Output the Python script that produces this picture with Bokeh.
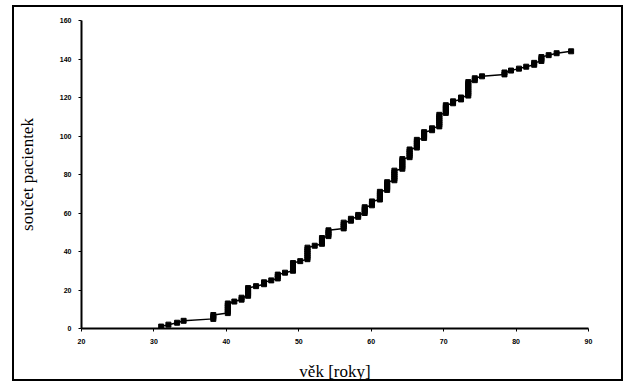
from bokeh.plotting import figure
from bokeh.embed import file_html
from bokeh.resources import INLINE
from bokeh.models import FixedTicker

ages = [31.0, 32.0, 33.2, 34.1, 38.2, 40.2, 41.1, 42.1, 43.0, 44.1, 45.2, 46.2,
        47.1, 48.1, 49.2, 50.2, 51.2, 52.2, 53.2, 54.1, 56.2, 57.2, 58.2, 59.1,
        60.1, 61.2, 62.2, 63.2, 64.3, 65.3, 66.3, 67.3, 68.4, 69.4, 70.3, 71.3,
        72.4, 73.4, 74.3, 75.3, 78.4, 79.3, 80.4, 81.4, 82.5, 83.5, 84.5, 85.6,
        87.6]
# cumulative number of patients reached at each age
cumulative = [1, 2, 3, 4, 7, 13, 14, 16, 21, 22, 24, 25,
              28, 29, 34, 35, 42, 43, 47, 51, 55, 57, 59, 63,
              66, 71, 76, 82, 88, 93, 98, 102, 104, 111, 116, 118,
              120, 128, 130, 131, 133, 134, 135, 136, 138, 141, 142, 143,
              144]
x_ticks = [20, 30, 40, 50, 60, 70, 80, 90]
y_ticks = [0, 20, 40, 60, 80, 100, 120, 140, 160]

# one point per patient: stacked at the same age
xs, ys = [], []
prev = 0
for a, c in zip(ages, cumulative):
    for k in range(prev + 1, c + 1):
        xs.append(a)
        ys.append(k)
    prev = c

p = figure(width=611, height=376, output_backend="svg", toolbar_location=None,
           x_range=(20, 90), y_range=(0, 160),
           min_border_left=65, min_border_right=37, min_border_top=13, min_border_bottom=54,
           margin=(5, 0, 0, 12))
p.styles = {"border": "2px solid black", "box-sizing": "border-box"}
p.background_fill_color = "white"
p.border_fill_color = "white"
p.outline_line_color = None
p.grid.visible = False

p.line(xs, ys, line_color="black", line_width=1.5)
p.scatter(xs, ys, marker="square", size=5, color="black")

for ax in (p.xaxis[0], p.yaxis[0]):
    ax.axis_line_color = "black"
    ax.axis_line_width = 2
    ax.major_tick_line_color = "black"
    ax.major_tick_line_width = 1
    ax.major_tick_out = 3
    ax.major_tick_in = 0
    ax.minor_tick_line_color = None
    ax.major_label_text_font = "Liberation Sans"
    ax.major_label_text_font_size = "7px"
    ax.major_label_text_font_style = "bold"
    ax.major_label_text_color = "black"
    ax.axis_label_text_font = "Liberation Serif"
    ax.axis_label_text_font_size = "17px"
    ax.axis_label_text_font_style = "normal"
    ax.axis_label_text_color = "black"

p.xaxis[0].ticker = FixedTicker(ticks=x_ticks)
p.yaxis[0].ticker = FixedTicker(ticks=y_ticks)
p.xaxis[0].axis_label = "věk [roky]"
p.yaxis[0].axis_label = "součet pacientek"
p.xaxis[0].major_label_standoff = 7
p.yaxis[0].major_label_standoff = 7
p.xaxis[0].axis_label_standoff = 15
p.yaxis[0].axis_label_standoff = 20

open("out.html", "w").write(file_html(p, INLINE))
